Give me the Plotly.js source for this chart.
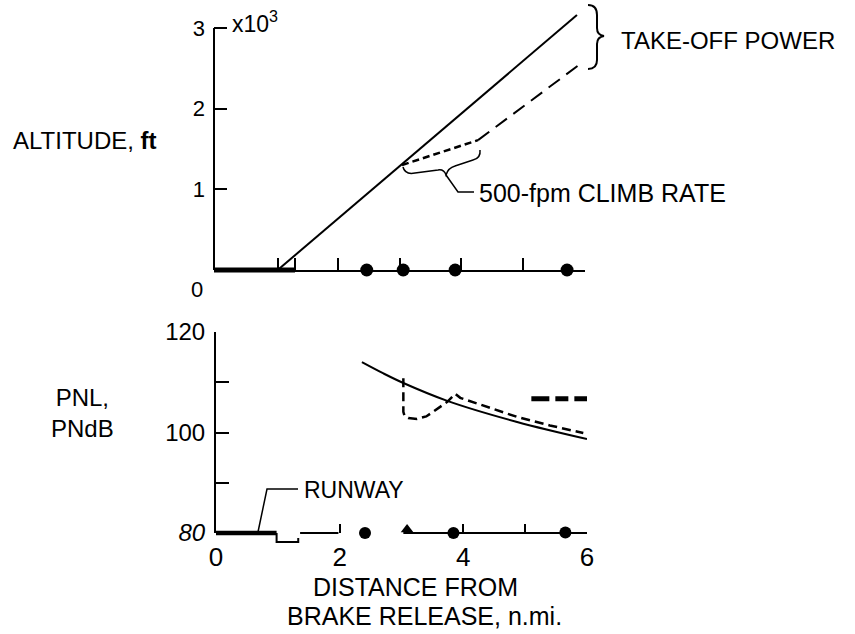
<!DOCTYPE html>
<html>
<head>
<meta charset="utf-8">
<script src="https://cdn.plot.ly/plotly-3.0.1.min.js"></script>
<style>html,body{margin:0;padding:0;background:#fff;}#chart{width:855px;height:634px;}</style>
</head>
<body>
<div id="chart"></div>
<script>
// ---------- data ----------
// Altitude panel (x in n.mi., y in thousands of ft)
const takeoffX = [1.03, 5.87];
const takeoffY = [0, 3.16];
const climb500X = [3.04, 4.27];
const climb500Y = [1.30, 1.61];
const climbAfterX = [4.27, 5.97];
const climbAfterY = [1.61, 2.58];
const topStationX = [2.47, 3.06, 3.9, 5.71];
const topStationY = [0, 0, 0, 0];
const topTickVals = [1.03, 1.31, 2, 3, 4, 5, 6];
const altTickVals = [1, 2, 3];
const altTickText = ['1', '2', '3'];

// PNL panel (PNdB)
const pnlSolidX = [2.36, 2.70, 3.03, 3.74, 4.87, 6.0];
const pnlSolidY = [114.0, 111.8, 109.85, 106.3, 102.1, 98.7];
const pnlDashX = [3.03, 3.03, 3.05, 3.11, 3.25, 3.40, 3.51, 3.65, 3.74, 3.87, 3.95, 4.87, 5.40, 5.94];
const pnlDashY = [110.8, 104.1, 103.3, 102.9, 102.7, 103.2, 104.1, 105.3, 106.1, 107.7, 106.9, 103.1, 101.4, 99.9];
const limitX = [5.1, 6.0];
const limitY = [106.7, 106.7];
const botCircleX = [2.41, 3.84, 5.65];
const botCircleY = [80, 80, 80.1];
const botTriangleX = [3.09];
const botTriangleY = [80.7];
const pnlTickVals = [80, 100, 120];
const pnlTickText = ['<i>80</i>', '100', '120'];
const pnlMinorTicks = [90, 110];
const distTickVals = [0, 2, 4, 6];
const distTickText = ['0', '2', '4', '6'];
const distMinorTicks = [5];
const runwayTop = [0, 1.31];
const runwayBottom = [0, 0.98];
const runwayNotch = [0.98, 1.33];
const bottomAxisSegments = [[1.36, 1.98], [3.03, 6.0]];

// ---------- helpers ----------
const W = 855, H = 634;
const FONT = 'Liberation Sans, Arial, Helvetica, sans-serif';
const fx = p => p / W;
const fy = p => 1 - p / H;
function pPath(cmds) {
  return cmds.map(c => {
    const out = [c[0]];
    for (let i = 1; i < c.length; i += 2) out.push(fx(c[i]).toFixed(5) + ',' + fy(c[i + 1]).toFixed(5));
    return out.join(' ');
  }).join(' ');
}
const TOP_AXIS_Y = fy(270);
const BOT_AXIS_Y = fy(533);

const traces = [
  {x: takeoffX, y: takeoffY, xaxis: 'x', yaxis: 'y', mode: 'lines', line: {color: 'black', width: 2}},
  {x: climb500X, y: climb500Y, xaxis: 'x', yaxis: 'y', mode: 'lines', line: {color: 'black', width: 2.5, dash: '7px,4px'}},
  {x: climbAfterX, y: climbAfterY, xaxis: 'x', yaxis: 'y', mode: 'lines', line: {color: 'black', width: 2, dash: '14px,8px'}},
  {x: topStationX, y: topStationY, xaxis: 'x', yaxis: 'y', mode: 'markers', cliponaxis: false,
   marker: {symbol: 'circle', size: 13, color: 'black', opacity: 1}},
  {x: pnlSolidX, y: pnlSolidY, xaxis: 'x2', yaxis: 'y2', mode: 'lines', line: {color: 'black', width: 2, shape: 'spline'}},
  {x: pnlDashX, y: pnlDashY, xaxis: 'x2', yaxis: 'y2', mode: 'lines', line: {color: 'black', width: 2.5, dash: '9px,5px'}},
  {x: limitX, y: limitY, xaxis: 'x2', yaxis: 'y2', mode: 'lines', line: {color: 'black', width: 5, dash: '18px,6px,13px,6px,13px,60px'}},
  {x: botCircleX, y: botCircleY, xaxis: 'x2', yaxis: 'y2', mode: 'markers', cliponaxis: false,
   marker: {symbol: 'circle', size: 12, color: 'black', opacity: 1}},
  {x: botTriangleX, y: botTriangleY, xaxis: 'x2', yaxis: 'y2', mode: 'markers', cliponaxis: false,
   marker: {symbol: 'triangle-up', size: 11, color: 'black', opacity: 1}}
];

const shapes = [];
// top y-axis line (0 to 3)
shapes.push({type: 'line', xref: 'x domain', yref: 'y', x0: 0, x1: 0, y0: 0, y1: 3, line: {color: 'black', width: 2}});
// runway heavy line, top panel
shapes.push({type: 'line', xref: 'x', yref: 'paper', x0: runwayTop[0], x1: runwayTop[1], y0: TOP_AXIS_Y, y1: TOP_AXIS_Y, line: {color: 'black', width: 5}});
// bottom axis line pieces
shapes.push({type: 'line', xref: 'x2', yref: 'paper', x0: runwayBottom[0], x1: runwayBottom[1], y0: BOT_AXIS_Y, y1: BOT_AXIS_Y, line: {color: 'black', width: 4.5}});
shapes.push({type: 'path', xref: 'x2', yref: 'paper', line: {color: 'black', width: 2},
  path: 'M ' + runwayNotch[0] + ',' + BOT_AXIS_Y + ' L ' + runwayNotch[0] + ',' + fy(542) +
        ' L ' + runwayNotch[1] + ',' + fy(542) + ' L ' + runwayNotch[1] + ',' + fy(538)});
bottomAxisSegments.forEach(s => {
  shapes.push({type: 'line', xref: 'x2', yref: 'paper', x0: s[0], x1: s[1], y0: BOT_AXIS_Y, y1: BOT_AXIS_Y, line: {color: 'black', width: 2}});
});
// take-off power brace
shapes.push({type: 'path', xref: 'paper', yref: 'paper', line: {color: 'black', width: 2},
  path: pPath([['M', 588, 5], ['Q', 597, 5, 597, 15], ['L', 597, 28], ['Q', 597, 35, 604, 36], ['Q', 597, 37, 597, 44], ['L', 597, 60], ['Q', 597, 69, 588, 69]])});
// 500-fpm brace and leader
shapes.push({type: 'path', xref: 'paper', yref: 'paper', line: {color: 'black', width: 1.5},
  path: pPath([['M', 403, 167], ['Q', 405, 175, 415, 173], ['L', 438, 170], ['Q', 444, 169, 446, 175], ['Q', 448, 168, 455, 166], ['L', 473, 160], ['Q', 481, 158, 480, 150]])});
shapes.push({type: 'path', xref: 'paper', yref: 'paper', line: {color: 'black', width: 1.5},
  path: pPath([['M', 446, 175], ['L', 458, 192], ['L', 474, 192]])});
// runway leader
shapes.push({type: 'path', xref: 'paper', yref: 'paper', line: {color: 'black', width: 1.5},
  path: pPath([['M', 298, 489], ['L', 267, 489], ['L', 258, 532]])});

function ann(text, x, y, size, xanchor, extra) {
  return Object.assign({text: text, xref: 'paper', yref: 'paper', x: fx(x), y: fy(y), xanchor: xanchor || 'left', yanchor: 'middle',
    showarrow: false, font: {family: FONT, size: size, color: 'black'}}, extra || {});
}
const annotations = [
  ann('TAKE-OFF POWER', 619, 40, 24),
  ann('ALTITUDE, <b>ft</b>', 11, 141, 24),
  ann('PNL,<br>PNdB', 82, 413, 24, 'center', {align: 'center'}),
  ann('0', 197, 289, 22, 'center'),
  ann('x10<sup>3</sup>', 230, 22, 23),
  ann('500-fpm CLIMB RATE', 477, 193, 25),
  ann('RUNWAY', 302, 490, 23),
  ann('DISTANCE FROM', 415, 587, 25, 'center'),
  ann('BRAKE RELEASE, n.mi.', 424, 616, 25, 'center')
];

const layout = {
  width: W, height: H,
  margin: {l: 0, r: 0, t: 0, b: 0, pad: 0},
  paper_bgcolor: 'white', plot_bgcolor: 'rgba(0,0,0,0)',
  showlegend: false,
  font: {family: FONT, size: 22, color: 'black'},
  xaxis: {domain: [214 / W, 585 / W], range: [0, 6], anchor: 'y', showline: true, linewidth: 2, linecolor: 'black',
    ticks: 'inside', ticklen: 12, tickwidth: 2, tickcolor: 'black', tickvals: topTickVals, showticklabels: false,
    showgrid: false, zeroline: false, fixedrange: true},
  yaxis: {domain: [(H - 270) / H, (H - 7.8) / H], range: [0, 3.25], anchor: 'x', showline: false,
    ticks: 'inside', ticklen: 13, tickwidth: 2, tickcolor: 'black', tickvals: altTickVals, ticktext: altTickText,
    tickfont: {size: 22}, ticklabelstandoff: 8, showgrid: false, zeroline: false, fixedrange: true},
  xaxis2: {domain: [216 / W, 587 / W], range: [0, 6], anchor: 'y2', showline: false,
    ticks: 'inside', ticklen: 9, tickwidth: 2, tickcolor: 'black', tickvals: distTickVals, ticktext: distTickText,
    minor: {tickvals: distMinorTicks, ticks: 'inside', ticklen: 9, tickwidth: 2, tickcolor: 'black', showgrid: false},
    tickfont: {size: 26}, ticklabelstandoff: 6, showgrid: false, zeroline: false, fixedrange: true},
  yaxis2: {domain: [(H - 533) / H, (H - 332) / H], range: [80, 120], anchor: 'x2', showline: true, linewidth: 2, linecolor: 'black',
    ticks: 'inside', ticklen: 13, tickwidth: 2, tickcolor: 'black', tickvals: pnlTickVals, ticktext: pnlTickText,
    minor: {tickvals: pnlMinorTicks, ticks: 'inside', ticklen: 13, tickwidth: 2, tickcolor: 'black', showgrid: false},
    tickfont: {size: 24}, ticklabelstandoff: 4, showgrid: false, zeroline: false, fixedrange: true},
  shapes: shapes,
  annotations: annotations
};

Plotly.newPlot('chart', traces, layout, {staticPlot: true, displayModeBar: false});
</script>
</body>
</html>
